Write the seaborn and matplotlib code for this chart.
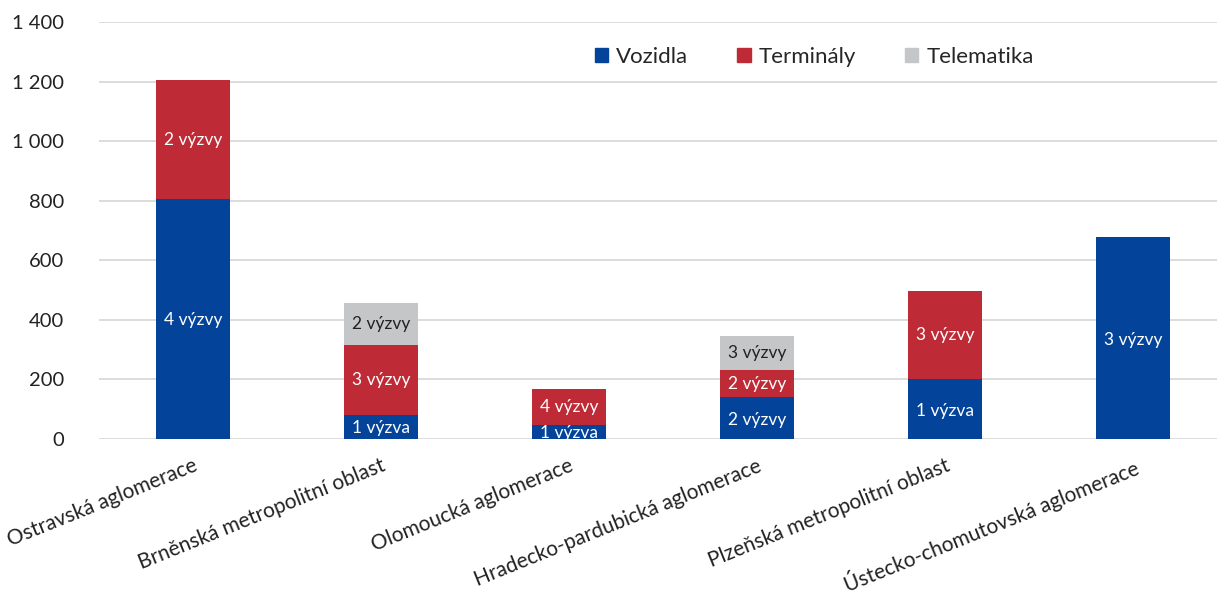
import matplotlib
matplotlib.use("Agg")
import matplotlib.pyplot as plt
import seaborn as sns
import pandas as pd
import numpy as np
from matplotlib.patches import Patch

categories = ["Ostravská aglomerace", "Brněnská metropolitní oblast", "Olomoucká aglomerace",
              "Hradecko-pardubická aglomerace", "Plzeňská metropolitní oblast", "Ústecko-chomutovská aglomerace"]
vozidla = [806, 81, 48, 141, 201, 678]
terminaly = [398, 233, 120, 90, 297, 0]
telematika = [0, 142, 0, 115, 0, 0]
vozidla_lbl = ["4 výzvy", "1 výzva", "1 výzva", "2 výzvy", "1 výzva", "3 výzvy"]
terminaly_lbl = ["2 výzvy", "3 výzvy", "4 výzvy", "2 výzvy", "3 výzvy", ""]
telematika_lbl = ["", "2 výzvy", "", "3 výzvy", "", ""]
series_names = ["Vozidla", "Terminály", "Telematika"]
yticks = [0, 200, 400, 600, 800, 1000, 1200, 1400]

colors = {"Vozidla": "#03449A", "Terminály": "#BE2A36", "Telematika": "#C5C6C8"}

sns.set_theme(style="white")
plt.rcParams['font.family'] = ['Lato', 'DejaVu Sans']

df = pd.DataFrame({"cat": categories, "Vozidla": vozidla, "Terminály": terminaly, "Telematika": telematika})
df["c1"] = df["Vozidla"]
df["c2"] = df["Vozidla"] + df["Terminály"]
df["c3"] = df["c2"] + df["Telematika"]

fig = plt.figure(figsize=(12.17, 5.96), dpi=100)
ax = fig.add_axes([0.0813, 0.2634, 0.927, 0.6997])

for col, name in [("c3", "Telematika"), ("c2", "Terminály"), ("c1", "Vozidla")]:
    sns.barplot(data=df, x="cat", y=col, color=colors[name], width=0.39, ax=ax,
                saturation=1, order=categories, linewidth=0)

ax.set_ylim(0, 1400)
ax.set_xlim(-0.5, 5.5)
ax.set_yticks(yticks)
ax.set_yticklabels([f"{v:,}".replace(",", " ") for v in yticks], fontsize=14.5, color="#222222")
ax.yaxis.grid(True, color="#D9D9D9", linewidth=1.3)
ax.set_axisbelow(True)
for s in ax.spines.values():
    s.set_visible(False)
ax.tick_params(axis="both", length=0)
ax.tick_params(axis="y", pad=25)
ax.tick_params(axis="x", pad=12)
ax.set_xlabel("")
ax.set_ylabel("")
ax.set_xticks(range(len(categories)))
ax.set_xticklabels(categories, rotation=22, ha="right", va="top", rotation_mode="anchor",
                   fontsize=15, color="#222222")

for i in range(len(categories)):
    if vozidla[i] > 0:
        ax.text(i, vozidla[i] / 2 - 5, vozidla_lbl[i], ha="center", va="center", color="white", fontsize=12.5)
    if terminaly[i] > 0:
        ax.text(i, vozidla[i] + terminaly[i] / 2, terminaly_lbl[i], ha="center", va="center", color="white", fontsize=12.5)
    if telematika[i] > 0:
        ax.text(i, vozidla[i] + terminaly[i] + telematika[i] / 2, telematika_lbl[i], ha="center", va="center",
                color="#222222", fontsize=12.5)

handles = [Patch(color=colors[n]) for n in series_names]
ax.legend(handles, series_names, loc="center", bbox_to_anchor=(0.634, 0.916), ncol=3, frameon=False,
          fontsize=16, handlelength=0.6, handleheight=0.6, columnspacing=2.2, handletextpad=0.36)

fig.savefig("out.png", dpi=100)
